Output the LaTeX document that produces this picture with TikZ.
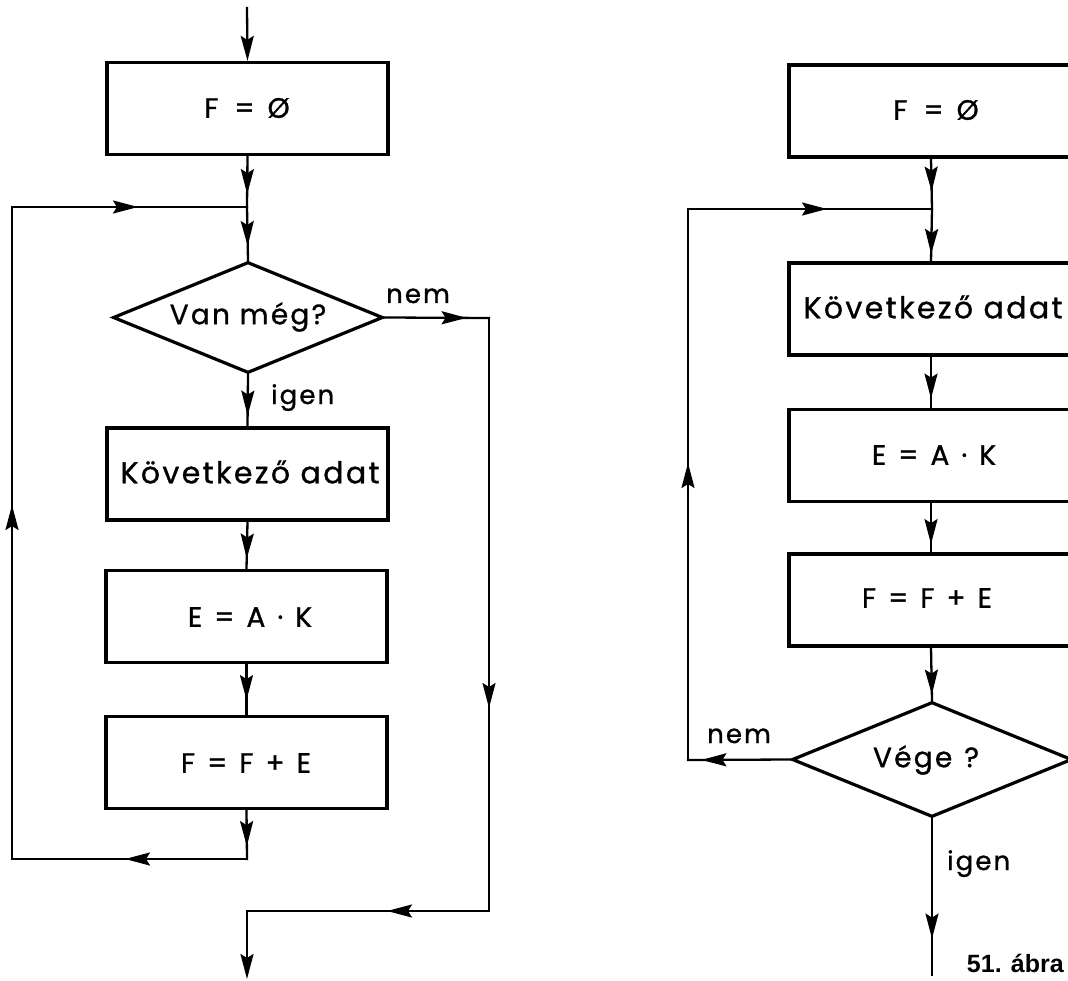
\documentclass[tikz,border=0pt]{standalone}
\usepackage{fontspec}
\setmainfont{Poppins}[LetterSpace=8, FakeBold=1]
\newfontfamily\capfont{Liberation Sans}
\usetikzlibrary{arrows.meta,shapes.geometric,decorations.markings}
\newcommand\gp{\hspace{12pt}}
\tikzset{
  conn/.style={line width=2.3pt, line cap=rect},
  tipstyle/.tip={Stealth[length=25pt,width=13pt,inset=4pt]},
  midarr/.style={postaction={decorate,decoration={markings,mark=at position #1 with {\arrow{tipstyle}}}}},
  procbox/.style={draw, line width=3.2pt, minimum width=281pt, minimum height=92pt, inner sep=0pt},
  decbox/.style={draw, diamond, line width=3.2pt, inner sep=0pt, aspect=2.4},
  formula/.style={font=\fontsize{28}{32}\selectfont},
  bigtext/.style={font=\fontsize{30}{34}\selectfont},
  qtext/.style={font=\fontsize{28}{32}\selectfont},
  lbl/.style={font=\fontsize{26}{30}\selectfont, anchor=base west, inner sep=0pt},
}
\begin{document}
\begin{tikzpicture}[x=1pt,y=-1pt]
\useasboundingbox (0,0) rectangle (1068,981);
\clip (0,0) rectangle (1068,981);

% ---------- left flowchart ----------
\node[procbox] (Lb1) at (247.5,108.5) {};
\node[formula] (Lt1) at (247,108) {F\hspace{16pt}=\hspace{13pt}Ø};
\node[decbox, minimum width=270pt, minimum height=111pt] (Ld) at (248,317.5) {};
\node[qtext] (Ldt) at (248,317) {Van még?};
\node[procbox] (Lb2) at (247.5,474) {};
\node[bigtext] (Lt2) at (250,472) {Következő adat};
\node[procbox] (Lb3) at (246.5,616.5) {};
\node[formula] (Lt3) at (250,617) {E\gp=\gp A\gp·\gp K};
\node[procbox] (Lb4) at (246.5,762.5) {};
\node[formula] (Lt4) at (246,763) {F\gp=\gp F\gp+\gp E};

\coordinate (Ltop) at (247,8);
\coordinate (Lj) at (247,207);
\coordinate (LloopTL) at (12,207);
\coordinate (LloopBL) at (12,859);
\coordinate (Lafter) at (247,859);
\coordinate (LnoTR) at (489,318);
\coordinate (LnoBR) at (489,911);
\coordinate (Lmerge) at (247,911);
\coordinate (Lend) at (247,979);

\draw[conn,-{tipstyle}] (Ltop) -- (Lb1.north);
\draw[conn,midarr=38pt] (Lb1.south) -- (Lj);
\draw[conn,midarr=39pt] (Lj) -- (Ld.north);
\draw[conn,midarr=41pt] (Ld.south) -- (Lb2.north);
\draw[conn,midarr=37pt] (Lb2.south) -- (Lb3.north);
\draw[conn,midarr=36pt] (Lb3.south) -- (Lb4.north);
\draw[conn,midarr=36pt] (Lb4.south) -- (Lafter);
\draw[conn,midarr=122pt] (Lafter) -- (LloopBL);
\draw[conn,midarr=354pt] (LloopBL) -- (LloopTL);
\draw[conn,midarr=126pt] (LloopTL) -- (Lj);
\draw[conn,midarr=82pt] (Ld.east) -- (LnoTR);
\draw[conn,midarr=390pt] (LnoTR) -- (LnoBR);
\draw[conn,midarr=102pt] (LnoBR) -- (Lmerge);
\draw[conn,-{tipstyle}] (Lmerge) -- (Lend);

\node[lbl] (Lnem) at (386,303) {nem};
\node[lbl] (Ligen) at (271,404) {igen};

% ---------- right flowchart ----------
\node[procbox, minimum width=284pt] (Rb1) at (931,111) {};
\node[formula] (Rt1) at (936,110) {F\hspace{16pt}=\hspace{13pt}Ø};
\node[procbox, minimum width=284pt] (Rb2) at (931,309) {};
\node[bigtext] (Rt2) at (933,307) {Következő adat};
\node[procbox, minimum width=284pt] (Rb3) at (931,455.5) {};
\node[formula] (Rt3) at (934,455) {E\gp=\gp A\gp·\gp K};
\node[procbox, minimum width=284pt] (Rb4) at (931,600) {};
\node[formula] (Rt4) at (927,598) {F\gp=\gp F\gp+\gp E};
\node[decbox, minimum width=280pt, minimum height=115pt] (Rd) at (932,759.5) {};
\node[qtext] (Rdt) at (926,760) {Vége\hspace{12pt}?};

\coordinate (Rj) at (932,209);
\coordinate (RloopTL) at (688,209);
\coordinate (RloopBL) at (688,760);
\coordinate (Rend) at (932,975);

\draw[conn,midarr=33pt] (Rb1.south) -- (Rj);
\draw[conn,midarr=45pt] (Rj) -- (Rb2.north);
\draw[conn,midarr=42pt] (Rb2.south) -- (Rb3.north);
\draw[conn,midarr=41pt] (Rb3.south) -- (Rb4.north);
\draw[conn,midarr=47pt] (Rb4.south) -- (Rd.north);
\draw[conn,midarr=89pt] (Rd.west) -- (RloopBL);
\draw[conn,midarr=297pt] (RloopBL) -- (RloopTL);
\draw[conn,midarr=139pt] (RloopTL) -- (Rj);
\draw[conn,midarr=120pt] (Rd.south) -- (Rend);

\node[lbl] (Rnem) at (707,743) {nem};
\node[lbl] (Rigen) at (947,870) {igen};
\node[anchor=base east, inner sep=0pt, font=\capfont\bfseries\fontsize{25}{29}\selectfont] (cap) at (1064,972) {51. ábra};
\end{tikzpicture}
\end{document}
